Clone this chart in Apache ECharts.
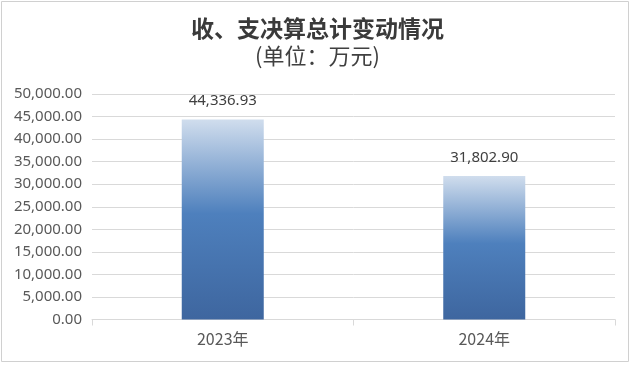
<!DOCTYPE html>
<html><head><meta charset="utf-8">
<script src="https://cdn.jsdelivr.net/npm/echarts@6/dist/echarts.min.js"></script>
<style>html,body{margin:0;padding:0;background:#fff}#c{width:635px;height:372px}</style>
</head><body><div id="c"></div>
<script>
var categories = ['2023年', '2024年'];
var values = [44336.93, 31802.90];
var yTicks = [0, 5000, 10000, 15000, 20000, 25000, 30000, 35000, 40000, 45000, 50000];
var titleText = '收、支决算总计变动情况';
var subtitleText = '(单位：万元)';

var chart = echarts.init(document.getElementById('c'));
var fmt = function (v) {
  return Number(v).toLocaleString('en-US', {minimumFractionDigits: 2, maximumFractionDigits: 2});
};
chart.setOption({
  animation: false,
  backgroundColor: '#fff',
  title: [{
    text: titleText,
    left: 'center', top: 15, padding: 0,
    textStyle: {fontFamily: 'Noto Sans CJK SC', fontSize: 23, fontWeight: 'bold', color: '#3a3a3a', lineHeight: 26}
  }, {
    text: subtitleText,
    left: 'center', top: 43, padding: 0,
    textStyle: {fontFamily: 'Noto Sans CJK SC', fontSize: 22, fontWeight: 'normal', color: '#404040', lineHeight: 26}
  }],
  graphic: [{
    type: 'rect', shape: {x: 1.5, y: 1.5, width: 627, height: 360},
    style: {fill: 'none', stroke: '#d0d0d0', lineWidth: 1}, z: -1
  }],
  grid: {left: 92, right: 20, top: 94, bottom: 52.5, containLabel: false},
  xAxis: {
    type: 'category', data: categories,
    axisLine: {lineStyle: {color: '#d9d9d9'}},
    axisTick: {show: true, alignWithLabel: false, length: 6, lineStyle: {color: '#d9d9d9'}},
    axisLabel: {color: '#595959', fontSize: 16, fontFamily: 'Noto Sans CJK SC', margin: 11}
  },
  yAxis: {
    type: 'value', min: yTicks[0], max: yTicks[yTicks.length - 1], interval: 5000,
    axisLine: {show: false}, axisTick: {show: false},
    splitLine: {lineStyle: {color: '#d9d9d9'}},
    axisLabel: {color: '#595959', fontSize: 15, fontFamily: 'Noto Sans', margin: 10, formatter: fmt}
  },
  series: [{
    type: 'bar', data: values, barWidth: 82,
    itemStyle: {
      color: new echarts.graphic.LinearGradient(0, 0, 0, 1, [
        {offset: 0, color: '#d0dded'},
        {offset: 0.47, color: '#4e80bd'},
        {offset: 1, color: '#3e669f'}
      ])
    },
    label: {
      show: true, position: 'top', distance: 11, color: '#404040', fontSize: 15,
      fontFamily: 'Noto Sans', formatter: function (p) { return fmt(p.value); }
    }
  }]
});
</script></body></html>
